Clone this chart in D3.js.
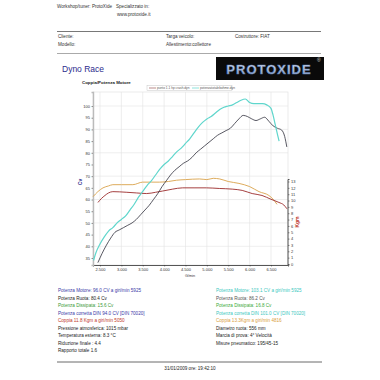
<!DOCTYPE html>
<html><head><meta charset="utf-8">
<script src="https://cdn.jsdelivr.net/npm/d3@7"></script>
<style>
html,body{margin:0;padding:0;background:#fff;}
svg{display:block;font-family:"Liberation Sans",Arial,sans-serif;}
</style></head>
<body><svg id="c" width="380" height="380"></svg>
<script>
// ---- data ----
const xTicks = [2500,3000,3500,4000,4500,5000,5500,6000,6500];
const xTickLabels = ["2.500","3.000","3.500","4.000","4.500","5.000","5.500","6.000","6.500"];
const cvTicks = [35,40,45,50,55,60,65,70,75,80,85,90,95,100];
const kgmTicks = [0,1,2,3,4,5,6,7,8,9,10,11,12,13];

const cyanRpm = [2350,2400,2500,2600,2700,2800,2900,3000,3100,3200,3300,3400,3500,3600,3700,3800,3900,4000,4100,4200,4300,4400,4500,4600,4700,4800,4900,5000,5100,5200,5300,5400,5500,5600,5700,5800,5900,6000,6100,6200,6300,6400,6500,6550,6600,6650,6690];
const cyanCv = [34,37,41,44,46.5,48,50,51.5,53,55.5,58,61,63.5,66,68,70.5,73,75,76.5,78.5,80.5,82,84,86,88.5,91,93,94.5,95.5,97,98.5,99.5,100,100.5,101.5,102.5,103,101.5,101,101,101,100.5,99,96,92,88,85];

const darkRpm = [2450,2550,2650,2750,2850,2950,3050,3150,3250,3350,3450,3550,3650,3750,3850,3950,4050,4150,4250,4350,4450,4550,4650,4750,4850,4950,5050,5150,5250,5350,5450,5550,5650,5750,5850,5950,6050,6150,6250,6350,6450,6550,6650,6750,6820,6870];
const darkCv = [33,37,40.5,43.5,46,47,48,49,50,51.5,53.5,55.5,57.5,60,62.5,65.5,68,70.5,72.5,74,75.5,76.5,78,80,81.5,83,84.5,86,87.5,88.5,89.5,90.5,92.5,94.5,96,95.5,94.5,93.8,94.5,95.2,93.5,91.5,90.5,89.7,87,82.5];

const orangeRpm = [2336,2450,2570,2700,2800,3000,3268,3500,3700,3895,4100,4290,4500,4825,5000,5150,5300,5500,5750,6000,6220,6450,6550,6640];
const orangeKgm = [10.6,11.4,12.0,12.3,12.5,12.5,12.5,12.9,12.9,12.9,13.0,13.2,13.3,13.4,13.3,13.5,13.4,13.0,12.7,12.2,11.4,10.8,10.2,9.4];

const redRpm = [2453,2530,2616,2700,2800,3128,3350,3593,3800,3965,4200,4430,4700,4990,5290,5593,5826,6060,6290,6500,6686,6800,6873];
const redKgm = [9.7,10.3,10.8,11.2,11.4,11.3,11.2,11.1,11.3,11.5,11.8,12.0,12.0,12.0,11.9,11.8,11.6,11.1,10.8,10.2,9.7,9.3,8.7];

const legendLabels = ["punto 1.1 hp crash.dyn","potenzatotalebohme.dyn"];
const leftLines = [
 ["Potenza Motore: 96.0 CV a giri/min 5925","#3a3aa8"],
 ["Potenza Ruota: 80.4 Cv","#222"],
 ["Potenza Dissipata: 15.6 Cv","#3a9a3a"],
 ["Potenza corretta DIN 94.0 CV  [DIN 70020]","#3a3aa8"],
 ["Coppia 11.8 Kgm a giri/min 5050","#c0392b"],
 ["Pressione atmosferica: 1015 mbar","#222"],
 ["Temperatura esterna: 8.3 °C","#222"],
 ["Riduzione finale : 4.4","#222"],
 ["Rapporto totale 1.6","#222"]
];
const rightLines = [
 ["Potenza Motore: 103.1 CV a giri/min 5925","#3cc8c0"],
 ["Potenza Ruota: 86.2 Cv","#555"],
 ["Potenza Dissipata: 16.8 Cv","#3aaa3a"],
 ["Potenza corretta DIN 101.0 CV  [DIN 70020]","#3cc8c0"],
 ["Coppia 13.3Kgm a giri/min 4816","#d9a040"],
 ["Diametro ruota: 556 mm","#222"],
 ["Marcia di prova: 4° Velocità","#222"],
 ["Misure pneumatico: 195/45-15","#222"]
];

// ---- drawing ----
const svg = d3.select("#c");
const fs = 4.6;
function txt(x,y,s,o={}){
  return svg.append("text").attr("x",x).attr("y",y).text(s)
   .attr("font-size",o.size||fs).attr("fill",o.fill||"#333")
   .attr("font-weight",o.weight||"normal").attr("text-anchor",o.anchor||"start");
}
// header
txt(57,8,"Workshop/tuner: ProtoXide");
txt(116,8,"Specializzato in:");
txt(117,16,"www.protoxide.it");
svg.append("line").attr("x1",57).attr("x2",321).attr("y1",31.5).attr("y2",31.5).attr("stroke","#555").attr("stroke-width",0.8);
txt(58,38,"Cliente:"); txt(166,38,"Targa veicolo:"); txt(235,38,"Costruttore: FIAT");
txt(58,45.5,"Modello:"); txt(166,45.5,"Allestimento:collettore");
svg.append("line").attr("x1",57).attr("x2",321).attr("y1",53.5).attr("y2",53.5).attr("stroke","#aaa").attr("stroke-width",1.2);
txt(62,72,"Dyno Race",{size:8.5,fill:"#2b2b8c"});
// logo
svg.append("rect").attr("x",216).attr("y",57).attr("width",108).attr("height",23).attr("fill","#0a0a0a");
const grad = svg.append("defs").append("linearGradient").attr("id","lg").attr("x1",0).attr("x2",0).attr("y1",0).attr("y2",1);
grad.append("stop").attr("offset","0").attr("stop-color","#e8eef8");
grad.append("stop").attr("offset","1").attr("stop-color","#7f9cc4");
svg.append("text").attr("x",269).attr("y",74).attr("text-anchor","middle").attr("font-size",13).attr("font-weight","bold")
  .attr("letter-spacing",1).attr("fill","url(#lg)").attr("stroke","#5a78b0").attr("stroke-width",0.5).text("PROTOXIDE");
txt(317,62,"®",{size:5,fill:"#ddd"});

// chart
const L=93,R=288,T=92,B=265;
const x = d3.scaleLinear().domain([2336,6898]).range([L,R]);
const yL = d3.scaleLinear().domain([32,106]).range([B,T]);
const yR = d3.scaleLinear().domain([0,13]).range([264,181.5]);

txt(82,83.5,"Coppia/Potenza Motore",{size:4.4,weight:"bold",fill:"#222"});
// frame
svg.append("rect").attr("x",L).attr("y",T).attr("width",R-L).attr("height",B-T).attr("fill","none").attr("stroke","#ddd").attr("stroke-width",0.6);
// grid
const g = svg.append("g");
g.selectAll(".vg").data(xTicks).join("line").attr("x1",d=>x(d)).attr("x2",d=>x(d)).attr("y1",T).attr("y2",B).attr("stroke","#e2e2e2").attr("stroke-width",0.6);
g.selectAll(".hg").data(cvTicks.filter(d=>d%10===0)).join("line").attr("x1",L).attr("x2",R).attr("y1",d=>yL(d)).attr("y2",d=>yL(d)).attr("stroke","#e2e2e2").attr("stroke-width",0.6);

// axes
const ax = svg.append("g").attr("transform",`translate(0,${B})`)
  .call(d3.axisBottom(x).tickValues(xTicks).tickFormat((d,i)=>xTickLabels[i]).tickSize(1.5).tickPadding(1.5));
const al = svg.append("g").attr("transform",`translate(${L},0)`)
  .call(d3.axisLeft(yL).tickValues(cvTicks).tickSize(1.5).tickPadding(1.5));
const ar = svg.append("g").attr("transform",`translate(${R},0)`)
  .call(d3.axisRight(yR).tickValues(kgmTicks).tickSize(1.5).tickPadding(1.5));
[ax,al,ar].forEach(a=>{
  a.selectAll("text").attr("font-size",4).attr("fill","#333").attr("font-family","Liberation Sans, Arial, sans-serif");
  a.selectAll("line").attr("stroke","#333").attr("stroke-width",0.5);
  a.select(".domain").attr("stroke","#444").attr("stroke-width",0.9);
});
al.select(".domain").attr("stroke","#bbb").attr("stroke-width",1.4);
ar.select(".domain").attr("d",`M1.5,${yR(13)-2}H0V${B}H1.5`);

// labels
svg.append("text").attr("transform","translate(82,182) rotate(-90)").attr("text-anchor","middle").attr("font-size",5).attr("font-weight","bold").attr("fill","#2b2b8c").text("Cv");
svg.append("text").attr("transform","translate(299,222) rotate(-90)").attr("text-anchor","middle").attr("font-size",5).attr("font-weight","bold").attr("fill","#c0392b").text("Kgm");
txt(190,276.5,"G/min",{size:3.8,anchor:"middle"});

// lines
function drawLine(rpm, vals, ys, color, w){
  const pts = rpm.map((r,i)=>[x(r), ys(vals[i])]);
  svg.append("path").attr("d",d3.line().curve(d3.curveMonotoneX)(pts)).attr("fill","none").attr("stroke",color).attr("stroke-width",w);
}
drawLine(orangeRpm, orangeKgm, yR, "#d9a24a", 0.9);
drawLine(redRpm, redKgm, yR, "#9b2a2a", 0.9);
drawLine(darkRpm, darkCv, yL, "#2d2d3a", 0.8);
drawLine(cyanRpm, cyanCv, yL, "#5fd6cc", 1.2);

// legend
svg.append("rect").attr("x",147).attr("y",85.5).attr("width",85).attr("height",5).attr("fill","#fff").attr("stroke","#bbb").attr("stroke-width",0.4);
svg.append("line").attr("x1",149).attr("x2",156).attr("y1",88).attr("y2",88).attr("stroke","#9b5a5a").attr("stroke-width",0.7);
txt(157,89.3,legendLabels[0],{size:3.2,fill:"#555"});
svg.append("line").attr("x1",192).attr("x2",199).attr("y1",88).attr("y2",88).attr("stroke","#5fd6cc").attr("stroke-width",0.7);
txt(200,89.3,legendLabels[1],{size:3.2,fill:"#555"});

// bottom text
leftLines.forEach((d,i)=>txt(58,292+i*7.5,d[0],{fill:d[1]}));
rightLines.forEach((d,i)=>txt(216,292+i*7.5,d[0],{fill:d[1]}));
svg.append("line").attr("x1",57).attr("x2",322).attr("y1",362).attr("y2",362).attr("stroke","#444").attr("stroke-width",0.8);
txt(190,370,"31/01/2009 ore: 19:42:10",{anchor:"middle",fill:"#222"});
</script></body></html>
